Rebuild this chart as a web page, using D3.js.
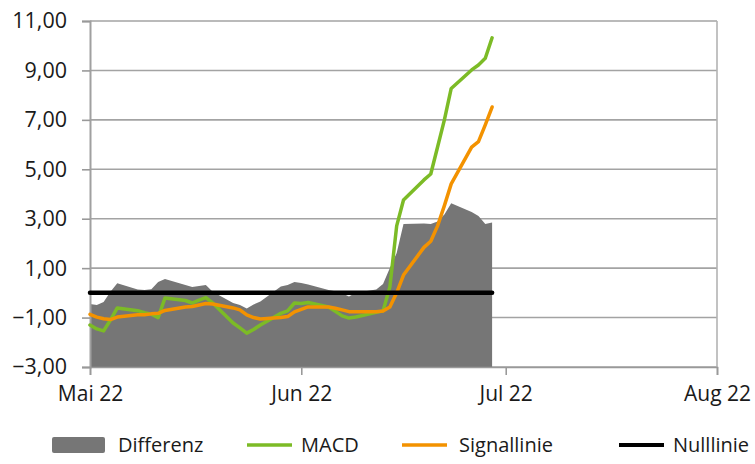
<!DOCTYPE html>
<html>
<head>
<meta charset="utf-8">
<script src="https://cdn.jsdelivr.net/npm/d3@7"></script>
<style>
  body { margin: 0; background: #fff; }
  svg { display: block; font-family: "Open Sans", sans-serif; }
</style>
</head>
<body>
<svg id="chart" width="755" height="464"></svg>
<script>
// trading days, May 2 - Jun 30 2022
const dates = [
  "2022-05-02","2022-05-03","2022-05-04","2022-05-05","2022-05-06",
  "2022-05-09","2022-05-10","2022-05-11","2022-05-12","2022-05-13",
  "2022-05-16","2022-05-17","2022-05-18","2022-05-19","2022-05-20",
  "2022-05-23","2022-05-24","2022-05-25","2022-05-26","2022-05-27",
  "2022-05-30","2022-05-31","2022-06-01","2022-06-02","2022-06-03",
  "2022-06-06","2022-06-07","2022-06-08","2022-06-09","2022-06-10",
  "2022-06-13","2022-06-14","2022-06-15","2022-06-16","2022-06-17",
  "2022-06-20","2022-06-21","2022-06-22","2022-06-23","2022-06-24",
  "2022-06-27","2022-06-28","2022-06-29","2022-06-30"
];
const macd = [
  -1.30, -1.46, -1.54, -1.10, -0.61,
  -0.72, -0.80, -0.86, -1.00, -0.21,
  -0.31, -0.41, -0.29, -0.19, -0.41,
  -1.22, -1.42, -1.63, -1.48, -1.30,
  -0.83, -0.73, -0.41, -0.43, -0.39,
  -0.57, -0.75, -0.93, -1.02, -0.98,
  -0.79, -0.73, 0.24, 2.71, 3.76,
  4.57, 4.81, 5.90, 7.00, 8.27,
  9.02, 9.22, 9.49, 10.32
];
const signal = [
  -0.87, -0.98, -1.05, -1.08, -0.98,
  -0.89, -0.89, -0.85, -0.83, -0.71,
  -0.57, -0.55, -0.49, -0.43, -0.45,
  -0.61, -0.69, -0.89, -1.00, -1.06,
  -1.00, -0.96, -0.77, -0.67, -0.57,
  -0.57, -0.62, -0.69, -0.76, -0.76,
  -0.76, -0.73, -0.57, 0.00, 0.72,
  1.84, 2.09, 2.71, 3.53, 4.41,
  5.90, 6.12, 6.80, 7.52
];
const differenz = [
  -0.45, -0.49, -0.37, 0.04, 0.39,
  0.14, 0.12, 0.15, 0.44, 0.56,
  0.32, 0.24, 0.28, 0.32, 0.04,
  -0.41, -0.49, -0.63, -0.47, -0.35,
  0.26, 0.32, 0.44, 0.40, 0.34,
  0.12, 0.06, -0.02, -0.15, 0.00,
  0.14, 0.36, 1.01, 1.61, 2.79,
  2.81, 2.79, 2.89, 3.17, 3.63,
  3.27, 3.11, 2.79, 2.85
];
const nullLevel = 0;

const yTicks = [-3, -1, 1, 3, 5, 7, 9, 11];
const xTickDates = ["2022-05-02", "2022-06-02", "2022-07-02", "2022-08-02"];
const xTickLabels = ["Mai 22", "Jun 22", "Jul 22", "Aug 22"];
const legendNames = ["Differenz", "MACD", "Signallinie", "Nulllinie"];

const parse = d3.timeParse("%Y-%m-%d");
const rows = dates.map((d, i) => ({
  date: parse(d), macd: macd[i], signal: signal[i], diff: differenz[i]
}));

const plotL = 90, plotR = 717, plotT = 21, plotB = 367;
const svg = d3.select("#chart");

const x = d3.scaleTime()
  .domain([parse(xTickDates[0]), parse(xTickDates[xTickDates.length - 1])])
  .range([plotL, plotR]);
const y = d3.scaleLinear().domain([-3, 11]).range([plotB, plotT]);

const de = d3.formatLocale({ decimal: ",", thousands: ".", grouping: [3], currency: ["", " €"] });
const fmt = de.format(".2f");

// grid
svg.append("g")
  .selectAll("line")
  .data(yTicks)
  .join("line")
  .attr("x1", plotL).attr("x2", plotR)
  .attr("y1", d => y(d)).attr("y2", d => y(d))
  .attr("stroke", "#a3a3a3")
  .attr("stroke-width", 1.6);

// right border
svg.append("line")
  .attr("x1", plotR).attr("x2", plotR)
  .attr("y1", plotT).attr("y2", plotB)
  .attr("stroke", "#b3b3b3")
  .attr("stroke-width", 1.6);

// Differenz area, filled down to axis minimum
svg.append("path")
  .datum(rows)
  .attr("fill", "#767676")
  .attr("d", d3.area()
    .x(d => x(d.date))
    .y0(y(-3))
    .y1(d => y(d.diff)));

// y axis
const yAxis = svg.append("g")
  .attr("transform", `translate(${plotL},0)`)
  .call(d3.axisLeft(y).tickValues(yTicks).tickFormat(fmt).tickSize(8).tickPadding(15));
yAxis.select(".domain").attr("stroke", "#a0a0a0").attr("stroke-width", 2);
yAxis.selectAll(".tick line").attr("stroke", "#999").attr("stroke-width", 1.6);
yAxis.selectAll(".tick text")
  .attr("font-size", 21.5)
  .attr("fill", "#1a1a1a")
  .attr("font-family", "Open Sans");

// x axis
const xAxis = svg.append("g")
  .attr("transform", `translate(0,${plotB})`)
  .call(d3.axisBottom(x)
    .tickValues(xTickDates.map(parse))
    .tickFormat((d, i) => xTickLabels[i])
    .tickSize(8).tickPadding(11));
xAxis.select(".domain").attr("stroke", "#999").attr("stroke-width", 1.6);
xAxis.selectAll(".tick line").attr("stroke", "#999").attr("stroke-width", 1.6);
xAxis.selectAll(".tick text")
  .attr("font-size", 21)
  .attr("fill", "#1a1a1a")
  .attr("font-family", "Open Sans");

// lines
const line = key => d3.line().x(d => x(d.date)).y(d => y(d[key]));
svg.append("path").datum(rows)
  .attr("fill", "none").attr("stroke", "#7cbb26").attr("stroke-width", 3.5)
  .attr("stroke-linejoin", "round").attr("stroke-linecap", "round")
  .attr("d", line("macd"));
svg.append("path").datum(rows)
  .attr("fill", "none").attr("stroke", "#f39200").attr("stroke-width", 3.5)
  .attr("stroke-linejoin", "round").attr("stroke-linecap", "round")
  .attr("d", line("signal"));
svg.append("path").datum(rows)
  .attr("fill", "none").attr("stroke", "#000").attr("stroke-width", 4.5)
  .attr("stroke-linecap", "round")
  .attr("d", d3.line().x(d => x(d.date)).y(() => y(nullLevel)));

// legend
const legend = svg.append("g").attr("font-size", 20).attr("fill", "#1a1a1a");
const lg = [
  { type: "rect", color: "#767676", sx: 52, tx: 118 },
  { type: "line", color: "#7cbb26", sx: 247, tx: 301, w: 3.5 },
  { type: "line", color: "#f39200", sx: 402, tx: 459, w: 3.5 },
  { type: "line", color: "#000", sx: 619, tx: 673, w: 4 }
];
lg.forEach((item, i) => {
  if (item.type === "rect") {
    legend.append("rect")
      .attr("x", item.sx).attr("y", 437).attr("width", 53).attr("height", 16)
      .attr("rx", 2).attr("fill", item.color);
  } else {
    legend.append("line")
      .attr("x1", item.sx).attr("x2", item.sx + 45)
      .attr("y1", 445).attr("y2", 445)
      .attr("stroke", item.color).attr("stroke-width", item.w);
  }
  legend.append("text")
    .attr("x", item.tx).attr("y", 452)
    .text(legendNames[i]);
});
</script>
</body>
</html>
